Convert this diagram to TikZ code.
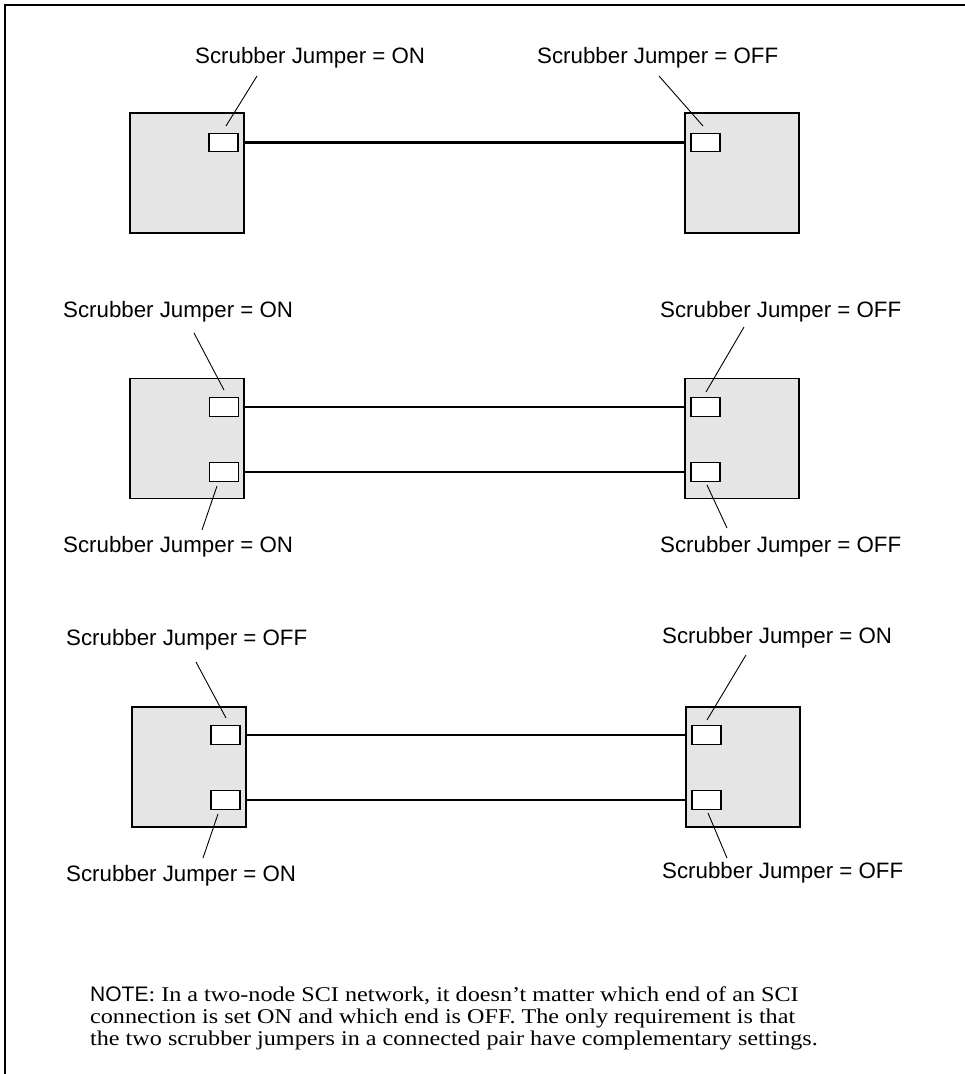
\documentclass[tikz,border=0pt]{standalone}
\usepackage{fontspec}
\setmainfont{Liberation Serif}
\setsansfont{Liberation Sans}
\newfontfamily\notefont[FakeStretch=1.15]{Liberation Serif}
\usetikzlibrary{calc}
\definecolor{unitGray}{HTML}{E5E5E5}
\tikzset{
  unit/.style={draw=black, line width=1.2pt, fill=unitGray, inner sep=0pt,
               minimum width=114pt, minimum height=120pt},
  jumper/.style={draw=black, line width=1.3pt, fill=white, inner sep=0pt,
                 minimum width=29pt, minimum height=18.5pt},
  link/.style={line width=2.2pt},
  pointer/.style={line width=0.9pt},
  jlabel/.style={anchor=base west, inner sep=0pt, font=\sffamily\fontsize{22.3}{26}\selectfont},
  noteline/.style={anchor=base west, inner sep=0pt, font=\notefont\fontsize{21}{22}\selectfont},
}

\begin{document}
\begin{tikzpicture}[x=1pt, y=-1pt]
\useasboundingbox (0,0) rectangle (965,1074);
\draw[line width=1.5pt] (5,1074) -- (5,5) -- (965,5);

% first pair: one link
\node[unit] (unitA1) at (187,173) {};
\node[unit] (unitB1) at (742,173) {};
\node[jumper] (jmpA1) at (223.5,142.5) {};
\node[jumper] (jmpB1) at (705.5,142.5) {};
\draw[link] (jmpA1.east -| unitA1.east) -- (jmpB1.west -| unitB1.west);
\node[jlabel] (lblA1) at (195,63) {Scrubber Jumper = ON};
\node[jlabel] (lblB1) at (537,63) {Scrubber Jumper = OFF};
\coordinate (ptrA1) at (257,76);  \coordinate (tipA1) at (226,126);
\coordinate (ptrB1) at (659,76);  \coordinate (tipB1) at (703,126);
\draw[pointer] (ptrA1) -- (tipA1);
\draw[pointer] (ptrB1) -- (tipB1);

% second pair: two links
\node[unit] (unitA2) at (187,438.5) {};
\node[unit] (unitB2) at (742,438.5) {};
\node[jumper] (jmpA2) at (224,407) {};
\node[jumper] (jmpA3) at (224,472) {};
\node[jumper] (jmpB2) at (705.5,407) {};
\node[jumper] (jmpB3) at (705.5,472) {};
\draw[link] (jmpA2.east -| unitA2.east) -- (jmpB2.west -| unitB2.west);
\draw[link] (jmpA3.east -| unitA2.east) -- (jmpB3.west -| unitB2.west);
\node[jlabel] (lblA2) at (63,317) {Scrubber Jumper = ON};
\node[jlabel] (lblA3) at (63,552) {Scrubber Jumper = ON};
\node[jlabel] (lblB2) at (660,317) {Scrubber Jumper = OFF};
\node[jlabel] (lblB3) at (660,552) {Scrubber Jumper = OFF};
\coordinate (ptrA2) at (194,333);  \coordinate (tipA2) at (224,390);
\coordinate (ptrA3) at (202,530);  \coordinate (tipA3) at (217,486);
\coordinate (ptrB2) at (744,327);  \coordinate (tipB2) at (706,392);
\coordinate (ptrB3) at (727,528);  \coordinate (tipB3) at (707,485);
\draw[pointer] (ptrA2) -- (tipA2);
\draw[pointer] (ptrA3) -- (tipA3);
\draw[pointer] (ptrB2) -- (tipB2);
\draw[pointer] (ptrB3) -- (tipB3);

% third pair: settings swapped on the upper link
\node[unit] (unitA4) at (189,767) {};
\node[unit] (unitB4) at (743,767) {};
\node[jumper] (jmpA4) at (225.5,735) {};
\node[jumper] (jmpA5) at (225.5,800) {};
\node[jumper] (jmpB4) at (706.5,735) {};
\node[jumper] (jmpB5) at (706.5,800) {};
\draw[link] (jmpA4.east -| unitA4.east) -- (jmpB4.west -| unitB4.west);
\draw[link] (jmpA5.east -| unitA4.east) -- (jmpB5.west -| unitB4.west);
\node[jlabel] (lblA4) at (66,645) {Scrubber Jumper = OFF};
\node[jlabel] (lblA5) at (66,881) {Scrubber Jumper = ON};
\node[jlabel] (lblB4) at (662,643) {Scrubber Jumper = ON};
\node[jlabel] (lblB5) at (662,878) {Scrubber Jumper = OFF};
\coordinate (ptrA4) at (196,662);  \coordinate (tipA4) at (226,718);
\coordinate (ptrA5) at (203,858);  \coordinate (tipA5) at (218,814);
\coordinate (ptrB4) at (746,655);  \coordinate (tipB4) at (707,720);
\coordinate (ptrB5) at (727,858);  \coordinate (tipB5) at (708,813);
\draw[pointer] (ptrA4) -- (tipA4);
\draw[pointer] (ptrA5) -- (tipA5);
\draw[pointer] (ptrB4) -- (tipB4);
\draw[pointer] (ptrB5) -- (tipB5);

% note
\node[noteline] (note1) at (90,1001) {{\sffamily NOTE}: In a two-node SCI network, it doesn’t matter which end of an SCI};
\node[noteline] (note2) at (90,1023) {connection is set ON and which end is OFF. The only requirement is that};
\node[noteline] (note3) at (90,1045) {the two scrubber jumpers in a connected pair have complementary settings.};
\end{tikzpicture}
\end{document}
